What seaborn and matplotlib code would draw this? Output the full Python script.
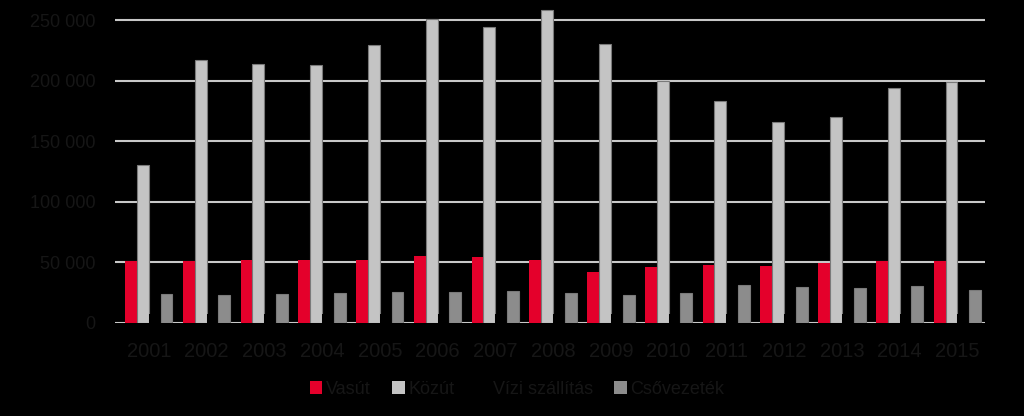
import pandas as pd
import seaborn as sns
import matplotlib.pyplot as plt
from matplotlib.patches import Patch

# --- Data ---
years = [str(y) for y in range(2001, 2016)]
vasut = [51000, 51000, 51500, 52000, 51500, 55000, 54000, 52000, 42000, 46000, 48000, 47000, 49000, 51000, 51000]
kozut = [130000, 217000, 214000, 213000, 229000, 251000, 244000, 258000, 230000, 200000, 183000, 166000, 170000, 194000, 199000]
vizi = [7000, 7000, 7000, 7000, 7000, 7000, 7000, 7000, 7000, 7000, 7000, 7000, 7000, 7000, 7000]
csovezetek = [24000, 23000, 24000, 25000, 25500, 25500, 26000, 25000, 23000, 24500, 31000, 29500, 29000, 30000, 27000]

series_names = ['Vasút', 'Közút', 'Vízi szállítás', 'Csővezeték']
colors = ['#e4002b', '#c4c4c4', '#000000', '#8c8c8c']
y_ticks = [0, 50000, 100000, 150000, 200000, 250000]

# long-form table for seaborn
df = pd.DataFrame({
    'Év': years * 4,
    'Érték': vasut + kozut + vizi + csovezetek,
    'Mód': sum([[name] * len(years) for name in series_names], []),
})

sns.set_theme(style='dark')
plt.rcParams['font.family'] = ['Liberation Sans', 'DejaVu Sans']
text_color = '#161616'

fig = plt.figure(figsize=(10.24, 4.16), dpi=100, facecolor='black')
ax = fig.add_axes([0.112, 0.224, 0.85, 0.757])
ax.set_facecolor('black')

sns.barplot(data=df, x='Év', y='Érték', hue='Mód', hue_order=series_names,
            palette=colors, saturation=1, width=0.82, ax=ax, legend=False, zorder=3)

# darker edge on the grey bars to hint at the 3D look
for bar in ax.patches:
    fc = bar.get_facecolor()
    if fc[0] > 0.5 and abs(fc[0] - fc[1]) < 0.05:
        bar.set_edgecolor('#7a7a7a')
        bar.set_linewidth(0.8)
    else:
        bar.set_linewidth(0)

ax.set_ylim(0, 260000)
ax.set_xlim(-0.59, 14.48)
ax.set_yticks(y_ticks)
ax.set_yticklabels([f'{v:,}'.replace(',', ' ') for v in y_ticks])
ax.grid(axis='y', color='#c8c8c8', linewidth=1.5, zorder=0)
ax.grid(axis='x', visible=False)
for s in ax.spines.values():
    s.set_visible(False)

ax.tick_params(axis='y', colors=text_color, labelsize=13, length=0, pad=14)
ax.tick_params(axis='x', colors=text_color, labelsize=14.5, length=0, pad=14)
ax.set_xlabel('')
ax.set_ylabel('')

handles = [Patch(facecolor=c, edgecolor='none') for c in colors]
fig.legend(handles, series_names, loc='center', bbox_to_anchor=(0.505, 0.064), ncol=4,
           frameon=False, fontsize=13, labelcolor=text_color,
           handlelength=0.7, handleheight=0.7, handletextpad=0.2, columnspacing=1.2)

fig.savefig('out.png', dpi=100, facecolor='black')
